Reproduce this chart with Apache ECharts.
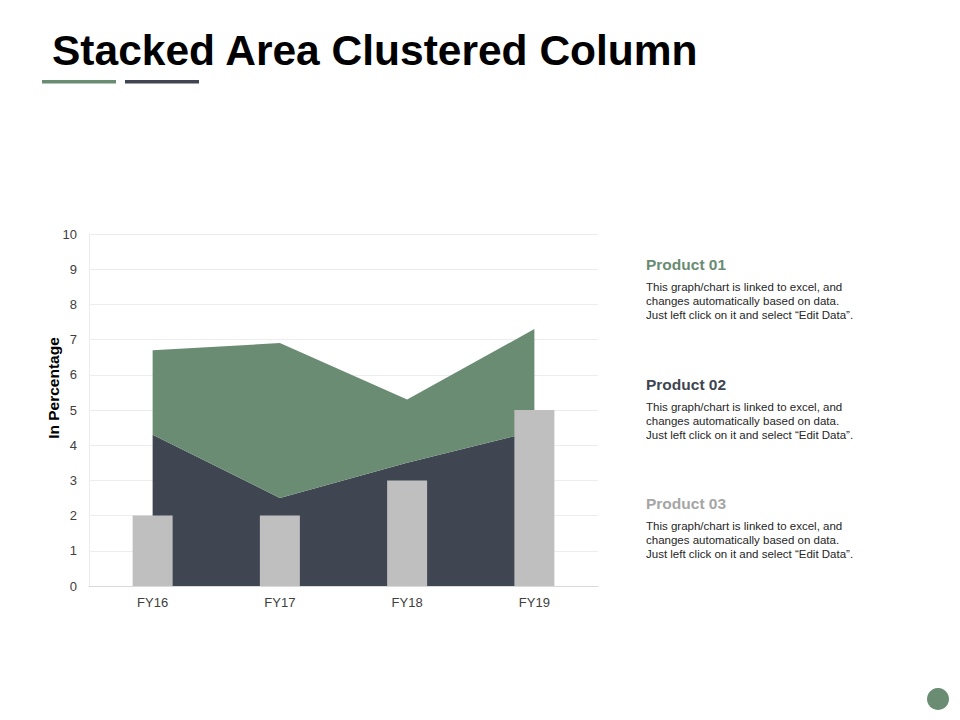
<!DOCTYPE html>
<html>
<head>
<meta charset="utf-8">
<script src="https://cdn.jsdelivr.net/npm/echarts@6/dist/echarts.min.js"></script>
<style>
  html, body { margin: 0; padding: 0; background: #fff; }
  #main { width: 960px; height: 720px; }
</style>
</head>
<body>
<div id="main"></div>
<script>
// chart data
var years = ['FY16', 'FY17', 'FY18', 'FY19'];
var product02 = [4.3, 2.5, 3.5, 4.4];   // dark area, bottom of stack
var product01 = [2.4, 4.4, 1.8, 2.9];   // green area, stacked on top
var product03 = [2, 2, 3, 5];           // gray columns
var yTicks = [0, 1, 2, 3, 4, 5, 6, 7, 8, 9, 10];

var blurb = 'This graph/chart is linked to excel, and\nchanges automatically based on data.\nJust left click on it and select \u201cEdit Data\u201d.';
var notes = [
  { name: 'Product 01', color: '#6a8c73', y: 266 },
  { name: 'Product 02', color: '#3f4551', y: 386 },
  { name: 'Product 03', color: '#a6a6a6', y: 505 }
];

var font = '"Liberation Sans", Arial, sans-serif';

var myChart = echarts.init(document.getElementById('main'), null, { renderer: 'svg' });

// side texts
var sideText = [];
notes.forEach(function (n) {
  sideText.push({
    type: 'text', left: 646, top: n.y - 10,
    style: { text: n.name, fill: n.color, font: 'bold 15.5px ' + font }
  });
  sideText.push({
    type: 'text', left: 646, top: n.y + 14,
    style: { text: blurb, fill: '#262626', font: '11.5px ' + font, lineHeight: 14 }
  });
});

myChart.setOption({
  animation: false,
  grid: { left: 89, right: 362, top: 234, bottom: 134 },
  xAxis: {
    type: 'category',
    data: years,
    boundaryGap: true,
    axisLine: { lineStyle: { color: '#d9d9d9' } },
    axisTick: { show: false },
    axisLabel: { color: '#404040', fontSize: 13, fontFamily: font, margin: 10 }
  },
  yAxis: {
    type: 'value',
    min: yTicks[0],
    max: yTicks[yTicks.length - 1],
    interval: 1,
    axisLine: { show: true, lineStyle: { color: '#ececec' } },
    axisTick: { show: false },
    axisLabel: { color: '#404040', fontSize: 13, fontFamily: font, margin: 12 },
    splitLine: { lineStyle: { color: '#ededed' } }
  },
  series: [
    {
      name: 'Product 02', type: 'line', stack: 'area', data: product02,
      symbol: 'none', lineStyle: { width: 0 },
      areaStyle: { color: '#3f4551', opacity: 1 }, z: 1
    },
    {
      name: 'Product 01', type: 'line', stack: 'area', data: product01,
      symbol: 'none', lineStyle: { width: 0 },
      areaStyle: { color: '#6a8c73', opacity: 1 }, z: 1
    },
    {
      name: 'Product 03', type: 'bar', data: product03,
      barWidth: 40, itemStyle: { color: '#bfbfbf' }, z: 3
    }
  ],
  graphic: [
    {
      type: 'text', left: 52, top: 29,
      style: { text: 'Stacked Area Clustered Column', fill: '#000', font: 'bold 42.5px ' + font }
    },
    { type: 'rect', shape: { x: 42, y: 80, width: 74, height: 3.5 }, style: { fill: '#6a8c73' } },
    { type: 'rect', shape: { x: 125, y: 80, width: 74, height: 3.5 }, style: { fill: '#3f4551' } },
    {
      type: 'text', x: 53, y: 388, rotation: Math.PI / 2,
      style: { text: 'In Percentage', fill: '#000', font: 'bold 15.5px ' + font, align: 'center', verticalAlign: 'middle' }
    },
    { type: 'circle', shape: { cx: 938, cy: 699, r: 11 }, style: { fill: '#6a8c73' } }
  ].concat(sideText)
});
</script>
</body>
</html>
